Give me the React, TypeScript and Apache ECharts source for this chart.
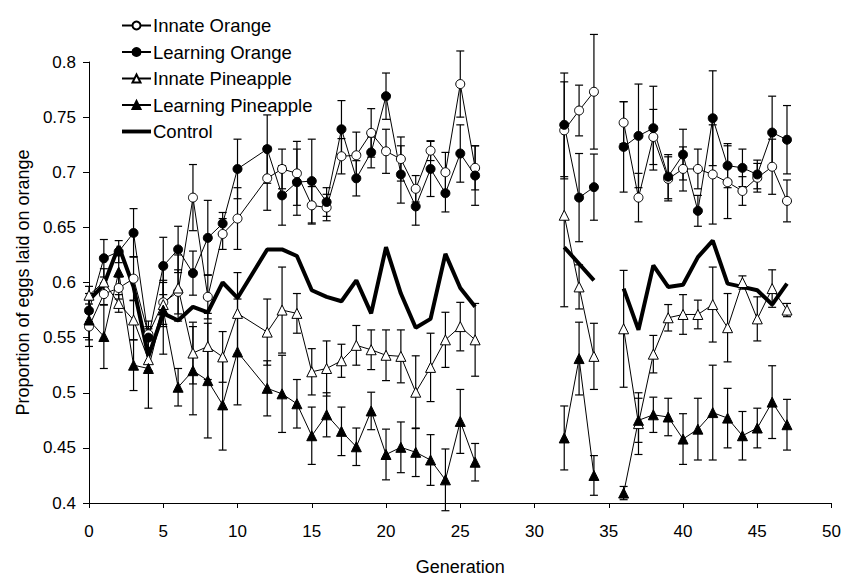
import { useEffect, useRef } from "react";
import * as echarts from "echarts";

// generations; null marks a break in the lines
const GENS = [
  0, 1, 2, 3, 4, 5, 6, 7, 8, 9, 10,
  12, 13, 14, 15, 16, 17, 18, 19, 20, 21, 22, 23, 24, 25, 26,
  null, 32, 33, 34,
  null, 36, 37, 38, 39, 40, 41, 42, 43, 44, 45, 46, 47,
];

const INNATE_ORANGE = [
  0.56, 0.5895, 0.595, 0.6035, 0.553, 0.582, 0.5915, 0.677, 0.587, 0.644, 0.658,
  0.6945, 0.703, 0.699, 0.67, 0.668, 0.7145, 0.7154, 0.7357, 0.719, 0.712, 0.685, 0.7196, 0.7, 0.78, 0.704,
  null, 0.738, 0.756, 0.773,
  null, 0.745, 0.677, 0.732, 0.694, 0.703, 0.703, 0.698, 0.691, 0.683, 0.695, 0.705, 0.674,
];
const INNATE_ORANGE_ERR = [
  0.012, 0.01, 0.01, 0.02, 0.012, 0.02, 0.02, 0.03, 0.02, 0.014, 0.028,
  0.029, 0.018, 0.029, 0.017, 0.012, 0.016, 0.021, 0.022, 0.02, 0.02, 0.012, 0.009, 0.018, 0.03, 0.02,
  null, 0.044, 0.023, 0.052,
  null, 0.019, 0.022, 0.025, 0.02, 0.02, 0.018, 0.045, 0.033, 0.013, 0.013, 0.025, 0.019,
];

const LEARNING_ORANGE = [
  0.5745, 0.622, 0.628, 0.645, 0.55, 0.615, 0.63, 0.6085, 0.6405, 0.6535, 0.703,
  0.721, 0.679, 0.691, 0.692, 0.673, 0.739, 0.6945, 0.718, 0.769, 0.698, 0.669, 0.703, 0.681, 0.717, 0.697,
  null, 0.743, 0.677, 0.6865,
  null, 0.723, 0.733, 0.74, 0.696, 0.716, 0.665, 0.749, 0.706, 0.704, 0.698, 0.736, 0.7295,
];
const LEARNING_ORANGE_ERR = [
  0.01, 0.017, 0.01, 0.022, 0.01, 0.026, 0.021, 0.02, 0.034, 0.01, 0.027,
  0.031, 0.027, 0.03, 0.038, 0.013, 0.026, 0.016, 0.014, 0.021, 0.026, 0.017, 0.025, 0.017, 0.026, 0.027,
  null, 0.047, 0.04, 0.03,
  null, 0.041, 0.047, 0.038, 0.02, 0.023, 0.014, 0.043, 0.02, 0.017, 0.013, 0.033, 0.031,
];

const INNATE_PINEAPPLE = [
  0.5885, 0.6005, 0.581, 0.566, 0.53, 0.58, 0.595, 0.536, 0.542, 0.5325, 0.572,
  0.555, 0.575, 0.572, 0.519, 0.522, 0.529, 0.543, 0.539, 0.534, 0.533, 0.5005, 0.523, 0.548, 0.56, 0.548,
  null, 0.661, 0.596, 0.533,
  null, 0.558, 0.472, 0.535, 0.568, 0.571, 0.571, 0.58, 0.559, 0.6, 0.567, 0.5945, 0.575,
];
const INNATE_PINEAPPLE_ERR = [
  0.008, 0.012, 0.008, 0.018, 0.01, 0.02, 0.03, 0.028, 0.03, 0.023, 0.037,
  0.03, 0.039, 0.018, 0.021, 0.025, 0.015, 0.018, 0.018, 0.023, 0.024, 0.033, 0.031, 0.025, 0.022, 0.033,
  null, 0.083, 0.02, 0.03,
  null, 0.053, 0.028, 0.017, 0.012, 0.018, 0.013, 0.034, 0.031, 0.006, 0.02, 0.017, 0.006,
];

const LEARNING_PINEAPPLE = [
  0.566, 0.551, 0.6095, 0.525, 0.522, 0.575, 0.505, 0.52, 0.511, 0.489, 0.537,
  0.504, 0.499, 0.49, 0.461, 0.48, 0.465, 0.451, 0.4835, 0.444, 0.4505, 0.446, 0.439, 0.421, 0.474, 0.437,
  null, 0.459, 0.531, 0.425,
  null, 0.409, 0.475, 0.48, 0.478, 0.458, 0.467, 0.482, 0.477, 0.461, 0.468, 0.4915, 0.471,
];
const LEARNING_PINEAPPLE_ERR = [
  0.024, 0.029, 0.015, 0.023, 0.036, 0.04, 0.017, 0.04, 0.052, 0.041, 0.048,
  0.025, 0.035, 0.022, 0.026, 0.02, 0.022, 0.017, 0.017, 0.023, 0.023, 0.022, 0.023, 0.028, 0.029, 0.017,
  null, 0.029, 0.033, 0.018,
  null, 0.006, 0.02, 0.016, 0.017, 0.023, 0.028, 0.043, 0.027, 0.022, 0.018, 0.033, 0.023,
];

const CONTROL_GENS = [
  0, 1, 2, 3, 4, 5, 6, 7, 8, 9, 10, 11, 12, 13, 14, 15, 16, 17, 18, 19, 20, 21, 22, 23, 24, 25, 26,
  null, 32, 33, 34,
  null, 36, 37, 38, 39, 40, 41, 42, 43, 44, 45, 46, 47,
];
const CONTROL = [
  0.584, 0.598, 0.633, 0.596, 0.533, 0.572, 0.5655, 0.578, 0.573, 0.6, 0.586, 0.608, 0.63, 0.63, 0.624,
  0.593, 0.587, 0.583, 0.602, 0.572, 0.632, 0.59, 0.559, 0.567, 0.626, 0.595, 0.578,
  null, 0.632, 0.617, 0.602,
  null, 0.5945, 0.557, 0.6155, 0.596, 0.598, 0.623, 0.638, 0.599, 0.596, 0.593, 0.58, 0.599,
];

const FONT = "Arial, 'Liberation Sans', sans-serif";

const toLine = (gens: (number | null)[], vals: (number | null)[]) =>
  gens.map((g, i) => (g === null || vals[i] === null ? ["-", "-"] : [g, vals[i]]));

const toErr = (gens: (number | null)[], vals: (number | null)[], errs: (number | null)[]) =>
  gens
    .map((g, i) =>
      g === null || vals[i] === null
        ? null
        : [g, (vals[i] as number) - (errs[i] as number), (vals[i] as number) + (errs[i] as number)]
    )
    .filter((d) => d !== null);

const errorBars = (data: any[]) => ({
  type: "custom",
  data,
  z: 1,
  silent: true,
  encode: { x: 0, y: [1, 2] },
  renderItem: (_params: any, api: any) => {
    const x = api.value(0);
    const top = api.coord([x, api.value(2)]);
    const bot = api.coord([x, api.value(1)]);
    const w = 4;
    const style = { stroke: "#000", lineWidth: 1.2 };
    return {
      type: "group",
      children: [
        { type: "line", shape: { x1: top[0], y1: top[1], x2: bot[0], y2: bot[1] }, style },
        { type: "line", shape: { x1: top[0] - w, y1: top[1], x2: top[0] + w, y2: top[1] }, style },
        { type: "line", shape: { x1: bot[0] - w, y1: bot[1], x2: bot[0] + w, y2: bot[1] }, style },
      ],
    };
  },
});

const markerLine = (name: string, data: any[], symbol: string, filled: boolean, size: number) => ({
  name,
  type: "line",
  data,
  z: 3,
  symbol,
  symbolSize: size,
  showSymbol: true,
  connectNulls: false,
  lineStyle: { color: "#000", width: 1 },
  itemStyle: { color: filled ? "#000" : "#fff", borderColor: "#000", borderWidth: 1 },
});

export default function App() {
  const ref = useRef<HTMLDivElement>(null);

  useEffect(() => {
    if (!ref.current) return;
    document.body.style.margin = "0";
    const chart = echarts.init(ref.current, null, { renderer: "svg" });

    const option: any = {
      animation: false,
      backgroundColor: "#fff",
      textStyle: { fontFamily: FONT },
      grid: { left: 89, right: 10, top: 62, bottom: 72 },
      legend: {
        orient: "vertical",
        left: 116,
        top: 11,
        itemWidth: 29,
        itemHeight: 10,
        itemGap: 7.5,
        data: [
          "Innate Orange",
          "Learning Orange",
          "Innate Pineapple",
          "Learning Pineapple",
          { name: "Control", icon: "path://M0,0 L30,0 L30,4 L0,4 Z" },
        ],
        textStyle: { fontSize: 18.5, color: "#000", fontFamily: FONT, padding: [0, 0, 0, -3] },
      },
      xAxis: {
        type: "value",
        min: 0,
        max: 50,
        interval: 5,
        name: "Generation",
        nameLocation: "middle",
        nameGap: 55,
        nameTextStyle: { fontSize: 18, color: "#000" },
        axisLine: { lineStyle: { color: "#000", width: 1 } },
        axisTick: { inside: false, length: 5, lineStyle: { color: "#000" } },
        axisLabel: { fontSize: 17, color: "#000", margin: 20 },
        splitLine: { show: false },
      },
      yAxis: {
        type: "value",
        min: 0.4,
        max: 0.8,
        interval: 0.05,
        name: "Proportion of eggs laid on orange",
        nameLocation: "middle",
        nameGap: 57,
        nameTextStyle: { fontSize: 18, color: "#000" },
        axisLine: { show: true, lineStyle: { color: "#000", width: 1 } },
        axisTick: { show: true, length: 6, lineStyle: { color: "#000" } },
        axisLabel: { fontSize: 17, color: "#000", margin: 13 },
        splitLine: { show: false },
      },
      series: [
        errorBars(toErr(GENS, INNATE_ORANGE, INNATE_ORANGE_ERR)),
        errorBars(toErr(GENS, LEARNING_ORANGE, LEARNING_ORANGE_ERR)),
        errorBars(toErr(GENS, INNATE_PINEAPPLE, INNATE_PINEAPPLE_ERR)),
        errorBars(toErr(GENS, LEARNING_PINEAPPLE, LEARNING_PINEAPPLE_ERR)),
        markerLine("Innate Orange", toLine(GENS, INNATE_ORANGE), "circle", false, 9),
        markerLine("Learning Orange", toLine(GENS, LEARNING_ORANGE), "circle", true, 9),
        markerLine("Innate Pineapple", toLine(GENS, INNATE_PINEAPPLE), "triangle", false, 10),
        markerLine("Learning Pineapple", toLine(GENS, LEARNING_PINEAPPLE), "triangle", true, 10),
        {
          name: "Control",
          type: "line",
          data: toLine(CONTROL_GENS, CONTROL),
          z: 2,
          symbol: "none",
          connectNulls: false,
          lineStyle: { color: "#000", width: 4 },
          itemStyle: { color: "#000" },
        },
      ],
    };

    chart.setOption(option);
    return () => chart.dispose();
  }, []);

  return <div ref={ref} style={{ width: 844, height: 581 }} />;
}
